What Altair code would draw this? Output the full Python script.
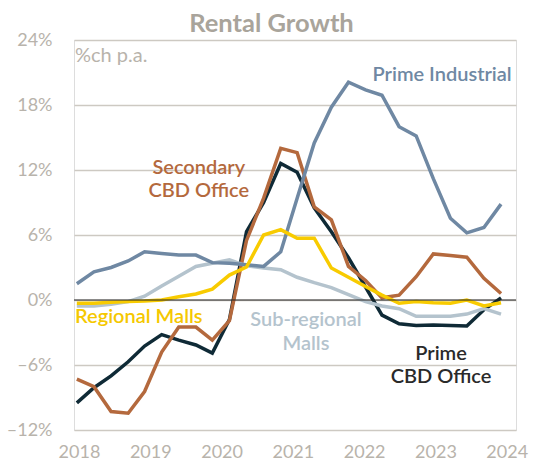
import altair as alt
import pandas as pd

# ---- data ----
DATES = [2017.97, 2018.21, 2018.45, 2018.69, 2018.92, 2019.16, 2019.40, 2019.64,
         2019.87, 2020.11, 2020.35, 2020.59, 2020.83, 2021.06, 2021.30, 2021.54,
         2021.78, 2022.02, 2022.25, 2022.49, 2022.73, 2022.97, 2023.21, 2023.44,
         2023.68, 2023.92]

PRIME_CBD = [-9.5, -8.1, -7.0, -5.7, -4.25, -3.2, -3.7, -4.15, -4.9, -1.8, 6.3, 9.0,
             12.6, 11.8, 8.5, 6.3, 3.9, 1.2, -1.4, -2.2, -2.35, -2.3, -2.35, -2.4,
             -0.9, 0.2]
SECONDARY_CBD = [-7.3, -8.0, -10.3, -10.45, -8.45, -4.8, -2.5, -2.5, -3.7, -1.9, 5.5,
                 9.4, 14.0, 13.6, 8.6, 7.4, 3.1, 1.8, 0.2, 0.45, 2.15, 4.25, 4.1, 3.95,
                 2.0, 0.6]
PRIME_INDUSTRIAL = [1.5, 2.6, 3.0, 3.6, 4.45, 4.3, 4.15, 4.15, 3.45, 3.4, 3.25, 3.1,
                    4.45, 9.4, 14.5, 17.8, 20.1, 19.4, 18.9, 16.0, 15.15, 11.2, 7.55,
                    6.2, 6.7, 8.85]
REGIONAL_MALLS = [-0.3, -0.3, -0.2, -0.15, -0.1, 0.0, 0.3, 0.55, 1.0, 2.3, 3.05, 6.0,
                  6.5, 5.7, 5.7, 2.95, 2.1, 1.25, 0.45, -0.3, -0.15, -0.25, -0.3, 0.0,
                  -0.55, -0.25]
SUBREGIONAL_MALLS = [-0.55, -0.55, -0.4, -0.15, 0.35, 1.3, 2.2, 3.1, 3.4, 3.7, 3.15,
                     2.95, 2.8, 2.1, 1.6, 1.15, 0.5, -0.15, -0.55, -0.8, -1.5, -1.5,
                     -1.5, -1.3, -0.8, -1.3]

SERIES = ["Prime CBD Office", "Secondary CBD Office", "Sub-regional Malls",
          "Prime Industrial", "Regional Malls"]
VALUES = [PRIME_CBD, SECONDARY_CBD, SUBREGIONAL_MALLS, PRIME_INDUSTRIAL, REGIONAL_MALLS]
COLORS = ["#0f2a36", "#b4693d", "#b4c3cd", "#6f88a3", "#f8cb00"]

YEAR_TICKS = [2018, 2019, 2020, 2021, 2022, 2023, 2024]
Y_TICKS = [-12, -6, 0, 6, 12, 18, 24]

rows = []
for name, vals in zip(SERIES, VALUES):
    for d, v in zip(DATES, vals):
        rows.append({"date": d, "value": v, "series": name})
df = pd.DataFrame(rows)

FONT = "Lato"
AXIS_COL = "#b8b3ab"
GRID_COL = "#cdc9c2"
TITLE_COL = "#a9a49b"

xscale = alt.Scale(domain=[2017.93, 2024.13], nice=False, zero=False)
yscale = alt.Scale(domain=[-12, 24], nice=False, zero=False)

lines = alt.Chart(df).mark_line(strokeWidth=3.5, strokeJoin="miter").encode(
    x=alt.X("date:Q", scale=xscale,
            axis=alt.Axis(values=YEAR_TICKS, format="d", grid=False, domain=False,
                          ticks=False, labelFont=FONT, labelFontSize=18,
                          labelColor=AXIS_COL, labelPadding=13, title=None)),
    y=alt.Y("value:Q", scale=yscale,
            axis=alt.Axis(values=Y_TICKS, grid=True, gridColor=GRID_COL, gridWidth=1.5,
                          domain=False, ticks=False, labelFont=FONT, labelFontSize=18,
                          labelColor=AXIS_COL, labelPadding=22, title=None,
                          labelExpr="(datum.value < 0 ? '\u2013' : '') + abs(datum.value) + '%'")),
    color=alt.Color("series:N", scale=alt.Scale(domain=SERIES, range=COLORS), legend=None),
    order=alt.Order("date:Q"),
)

zero = alt.Chart().mark_rule(color="#222222", strokeWidth=1).encode(y=alt.datum(0))


def label(text, x, y, color, align="center", weight=600, size=20):
    return alt.Chart().mark_text(text=text, align=align, baseline="alphabetic",
                                 font=FONT, fontSize=size, fontWeight=weight,
                                 color=color).encode(x=alt.datum(x), y=alt.datum(y))


labels = [
    label("Rental Growth", 2020.70, 24.74, TITLE_COL, weight="bold", size=25.5),
    label("%ch p.a.", 2017.944, 21.97, AXIS_COL, align="left", weight="normal", size=20),
    label("Prime Industrial", 2024.07, 20.2, "#6f88a3", align="right"),
    label("Secondary", 2019.68, 11.63, "#b4693d"),
    label("CBD Office", 2019.68, 9.55, "#b4693d"),
    label("Regional Malls", 2017.944, -2.12, "#f5c800", align="left"),
    label("Sub-regional", 2021.184, -2.4, "#b4c3cd"),
    label("Malls", 2021.184, -4.62, "#b4c3cd"),
    label("Prime", 2023.078, -5.54, "#2a2a2a"),
    label("CBD Office", 2023.078, -7.66, "#2a2a2a"),
]

chart = alt.layer(lines, zero, *labels).properties(
    width=442, height=390,
    autosize=alt.AutoSizeParams(type="none"),
    padding={"left": 74, "top": 40, "right": 23, "bottom": 34},
).configure_view(stroke=None).configure(background="white")

chart.save("out.html", embed_options={"renderer": "svg", "actions": False})
